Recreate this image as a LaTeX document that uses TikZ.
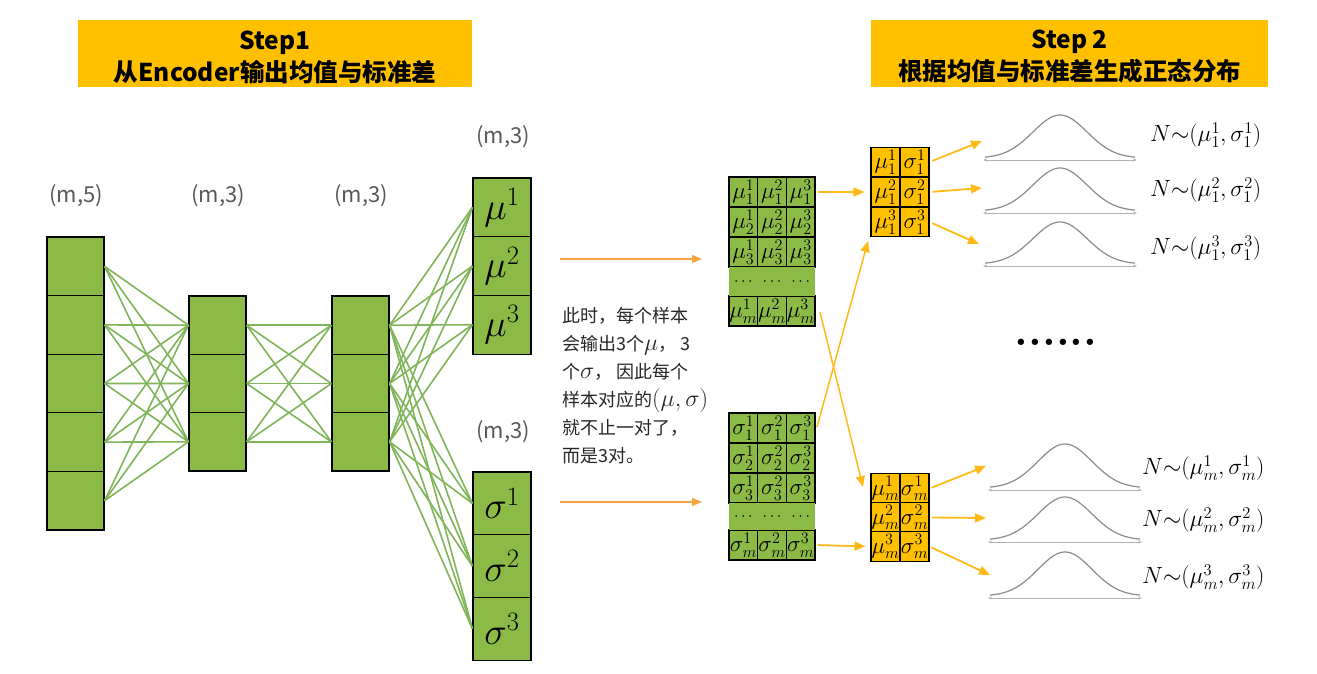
\RequirePackage{fix-cm}
\documentclass[tikz,border=0pt]{standalone}
\usepackage{fontspec}
\newfontfamily\cjk{Noto Sans CJK SC}
\usetikzlibrary{arrows.meta}
\definecolor{hdr}{HTML}{FFC000}
\definecolor{grn}{HTML}{8BBB46}
\definecolor{lgrn}{HTML}{80B55A}
\definecolor{org}{HTML}{FFC000}
\definecolor{arr}{HTML}{FFBA1A}
\definecolor{arrb}{HTML}{F4A340}
\newcommand{\notemath}[1]{{\fontsize{24}{28}\selectfont$#1$}}
\begin{document}
\begin{tikzpicture}[x=1pt,y=-1pt,
  hdrbox/.style={fill=hdr, minimum height=67pt, inner sep=0pt},
  hdrtxt/.style={inner sep=0pt, align=center, font=\cjk\bfseries\fontsize{24.5}{32}\selectfont, text=black},
  nncell/.style={draw=black, line width=1.2pt, fill=grn, inner sep=0pt, minimum width=57pt},
  conn/.style={draw=lgrn, line width=1.6pt},
  dimlbl/.style={font=\cjk\fontsize{22}{24}\selectfont, text=black!65},
  bigsym/.style={font=\fontsize{38}{38}\selectfont},
  mcell/.style={draw=black, line width=1.1pt, fill=grn, inner sep=0pt,
    minimum width=28.67pt, minimum height=30pt, font=\fontsize{23}{23}\selectfont},
  ocell/.style={mcell, fill=org, minimum width=29pt, minimum height=29.5pt},
  band/.style={fill=grn, inner sep=0pt, minimum width=86pt},
  bigarrow/.style={draw=arrb, line width=1.5pt, -{Triangle[length=10pt,width=8pt]}},
  yarrow/.style={draw=arr, line width=1.8pt, -{Triangle[length=11pt,width=9pt]}},
  bellaxis/.style={draw=black!30, line width=0.8pt, {Stealth[length=4pt,width=3pt]}-{Stealth[length=4pt,width=3pt]}},
  bell/.style={draw=black!45, line width=1.2pt},
  nlbl/.style={font=\fontsize{23.5}{25}\selectfont, anchor=west, inner sep=0pt}
]
\useasboundingbox (0,0) rectangle (1317,673);
\fill[white] (0,0) rectangle (1317,673);

% headers
\node[hdrbox, minimum width=394pt] (h1) at (275,53.5) {};
\node[hdrtxt] (h1t) at (275,57) {Step1\\从Encoder输出均值与标准差};
\node[hdrbox, minimum width=397pt] (h2) at (1069.5,53.5) {};
\node[hdrtxt] (h2t) at (1069.5,57) {Step 2\\根据均值与标准差生成正态分布};

% layer labels
\node[dimlbl] (la) at (76,196) {(m,5)};
\node[dimlbl] (lb) at (218,196) {(m,3)};
\node[dimlbl] (lc) at (361,196) {(m,3)};
\node[dimlbl] (lmu) at (503,137) {(m,3)};
\node[dimlbl] (lsg) at (503,432) {(m,3)};

% network cells
\foreach \i in {1,...,5}
  \node[nncell, minimum height=58.6pt] (a\i) at (75.5,{237+58.6*(\i-0.5)}) {};
\foreach \i in {1,...,3} {
  \node[nncell, minimum height=58.33pt] (b\i) at (217.5,{296+58.33*(\i-0.5)}) {};
  \node[nncell, minimum height=58.33pt] (c\i) at (360.5,{296+58.33*(\i-0.5)}) {};
  \node[nncell, minimum height=58.7pt, minimum width=58pt, bigsym] (mu\i) at (502,{178+58.7*(\i-0.5)}) {$\mu^{\i}$};
  \node[nncell, minimum height=62.7pt, minimum width=58pt, bigsym] (sg\i) at (502,{472+62.7*(\i-0.5)}) {$\sigma^{\i}$};
}

% connections
\foreach \i in {1,...,5} \foreach \j in {1,...,3} \draw[conn] (a\i.east) -- (b\j.west);
\foreach \i in {1,...,3} \foreach \j in {1,...,3} {
  \draw[conn] (b\i.east) -- (c\j.west);
  \draw[conn] (c\i.east) -- (mu\j.west);
  \draw[conn] (c\i.east) -- (sg\j.west);
}

% big arrows
\coordinate (ar1s) at (560,259); \coordinate (ar1e) at (702,259);
\coordinate (ar2s) at (560,502); \coordinate (ar2e) at (702,502);
\draw[bigarrow] (ar1s) -- (ar1e);
\draw[bigarrow] (ar2s) -- (ar2e);

% note text
\node[anchor=north west, align=left, inner sep=0pt, text=black!85,
  font=\cjk\fontsize{18}{28}\selectfont] (note) at (562,307)
  {此时，每个样本\\会输出3个\notemath{\mu}， 3\\个\notemath{\sigma}， 因此每个\\样本对应的\notemath{(\mu,\sigma)}\\就不止一对了，\\而是3对。};

% mu matrix
\foreach \r/\y in {1/192,2/222,3/252,m/311}
  \foreach \c/\x in {1/743.33,2/772,3/800.67}
    \node[mcell] (mu-\r-\c) at (\x,\y) {$\mu^{\c}_{\r}$};
\node[band, minimum height=29pt] (mub) at (772,281.5) {};
\foreach \c/\x in {1/743.33,2/772,3/800.67}
  \node[inner sep=0pt, font=\fontsize{16}{16}\selectfont] (mud\c) at (\x,281.5) {$\cdots$};

% sigma matrix
\foreach \r/\y in {1/428,2/458,3/488,m/545}
  \foreach \c/\x in {1/743.33,2/772,3/800.67}
    \node[mcell] (sg-\r-\c) at (\x,\y) {$\sigma^{\c}_{\r}$};
\node[band, minimum height=27pt] (sgb) at (772,516.5) {};
\foreach \c/\x in {1/743.33,2/772,3/800.67}
  \node[inner sep=0pt, font=\fontsize{16}{16}\selectfont] (sgd\c) at (\x,516.5) {$\cdots$};

% orange matrices
\foreach \r/\y in {1/162,2/192,3/222} {
  \node[ocell] (ot-\r-1) at (885.5,\y) {$\mu^{\r}_{1}$};
  \node[ocell] (ot-\r-2) at (914.5,\y) {$\sigma^{\r}_{1}$};
}
\foreach \r/\y in {1/488.5,2/517.5,3/546.5} {
  \node[ocell] (ob-\r-1) at (885.5,\y) {$\mu^{\r}_{m}$};
  \node[ocell] (ob-\r-2) at (914.5,\y) {$\sigma^{\r}_{m}$};
}

% arrows to orange matrices
\draw[yarrow, shorten <=2pt, shorten >=6pt] (mu-1-3.east) -- (ot-2-1.west);
\draw[yarrow, shorten <=2pt, shorten >=5pt] (sg-m-3.east) -- (ob-3-1.west);
\coordinate (x1s) at (820,312); \coordinate (x1e) at (863,487);
\coordinate (x2s) at (817,427); \coordinate (x2e) at (868,241);
\draw[yarrow, line width=1.5pt] (x1s) -- (x1e);
\draw[yarrow, line width=1.5pt] (x2s) -- (x2e);

% gaussians
\foreach \n/\cx/\by/\h in {g1/1060/160/43, g2/1060/213/43, g3/1060/266/42,
                            g4/1065/490/44, g5/1065/542/43, g6/1065/598/44} {
  \coordinate (\n) at (\cx-77,\by);
  \draw[bellaxis] (\cx-77,\by) -- (\cx+77,\by);
  \draw[bell] plot[domain=-75:75, samples=90, smooth] ({\cx+\x},{\by-2-\h*exp(-((\x/27)^2)/2)});
}

% arrows to gaussians
\coordinate (t1) at (982,141); \coordinate (t2) at (982,188); \coordinate (t3) at (979,244);
\coordinate (t4) at (986,466); \coordinate (t5) at (986,518); \coordinate (t6) at (990,575);
\draw[yarrow, shorten <=3pt] (ot-1-2.east) -- (t1);
\draw[yarrow, shorten <=3pt] (ot-2-2.east) -- (t2);
\draw[yarrow, shorten <=3pt] (ot-3-2.east) -- (t3);
\draw[yarrow, shorten <=2pt] (ob-1-2.east) -- (t4);
\draw[yarrow, shorten <=2pt] (ob-2-2.east) -- (t5);
\draw[yarrow, shorten <=2pt] (ob-3-2.east) -- (t6);

% labels
\node[nlbl] (n1) at (1150,135) {$N{\sim}(\mu^1_1,\sigma^1_1)$};
\node[nlbl] (n2) at (1150,190) {$N{\sim}(\mu^2_1,\sigma^2_1)$};
\node[nlbl] (n3) at (1150,248) {$N{\sim}(\mu^3_1,\sigma^3_1)$};
\node[nlbl] (n4) at (1142,468) {$N{\sim}(\mu^1_m,\sigma^1_m)$};
\node[nlbl] (n5) at (1142,520) {$N{\sim}(\mu^2_m,\sigma^2_m)$};
\node[nlbl] (n6) at (1142,577) {$N{\sim}(\mu^3_m,\sigma^3_m)$};

\node[anchor=base, inner sep=0pt, font=\bfseries\fontsize{44}{44}\selectfont] (dots) at (1056,345) {......};
\end{tikzpicture}
\end{document}
